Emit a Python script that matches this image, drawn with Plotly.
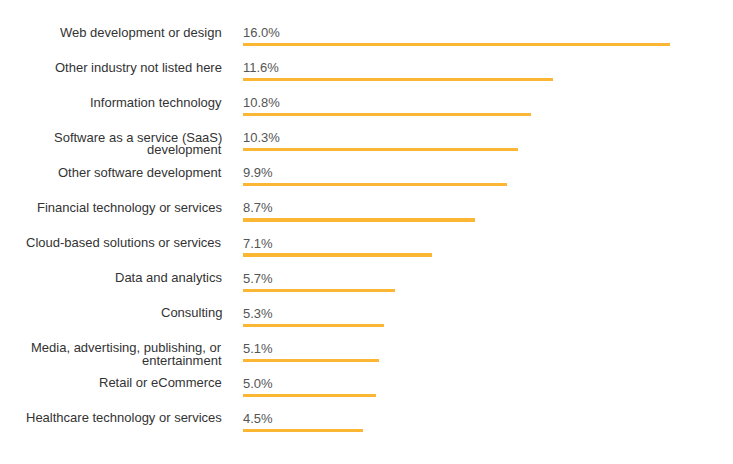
import plotly.graph_objects as go

categories = [
    "Web development or design",
    "Other industry not listed here",
    "Information technology",
    "Software as a service (SaaS)<br>development",
    "Other software development",
    "Financial technology or services",
    "Cloud-based solutions or services",
    "Data and analytics",
    "Consulting",
    "Media, advertising, publishing, or<br>entertainment",
    "Retail or eCommerce",
    "Healthcare technology or services",
]
values = [16.0, 11.6, 10.8, 10.3, 9.9, 8.7, 7.1, 5.7, 5.3, 5.1, 5.0, 4.5]
value_labels = [f"{v:.1f}%" for v in values]

BAR_COLOR = "#fbb733"
FONT = "Liberation Sans, Arial, sans-serif"

fig = go.Figure(
    go.Bar(
        x=values,
        y=categories,
        orientation="h",
        width=0.09,
        marker=dict(color=BAR_COLOR, line=dict(width=0)),
        hoverinfo="skip",
    )
)

annotations = []
for cat, lab in zip(categories, value_labels):
    lines = cat.split("<br>")
    for j, line in enumerate(lines):
        annotations.append(dict(
            x=0, xref="paper", y=cat, yref="y",
            text=line, showarrow=False,
            xanchor="right", yanchor="middle",
            xshift=-19, yshift=12.5 - j * 12.5,
            font=dict(family=FONT, size=13, color="#333333"),
        ))
    annotations.append(dict(
        x=0, xref="x", y=cat, yref="y",
        text=lab, showarrow=False,
        xanchor="left", yanchor="middle",
        xshift=-2, yshift=12,
        font=dict(family=FONT, size=13, color="#555555"),
    ))

fig.update_layout(
    width=733, height=464,
    margin=dict(l=235, r=71, t=19, b=24),
    paper_bgcolor="white", plot_bgcolor="white",
    showlegend=False,
    xaxis=dict(range=[0, 16], visible=False, fixedrange=True),
    yaxis=dict(autorange=False, range=[11.5, -0.5], visible=False,
               type="category", categoryorder="array", categoryarray=categories),
    annotations=annotations,
    bargap=0,
)

fig.write_html("out.html")
